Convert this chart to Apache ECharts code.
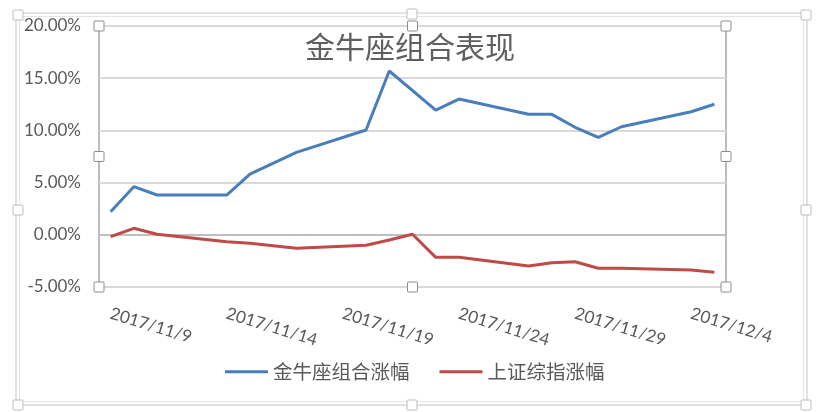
<!DOCTYPE html>
<html>
<head>
<meta charset="utf-8">
<script src="https://cdn.jsdelivr.net/npm/echarts@6/dist/echarts.min.js"></script>
<style>
html,body{margin:0;padding:0;background:#fff;}
#chart{width:817px;height:412px;}
</style>
</head>
<body>
<div id="chart"></div>
<script>
// Categories: calendar days on the date axis
const categories = [
  '2017/11/9','2017/11/10','2017/11/11','2017/11/12','2017/11/13','2017/11/14','2017/11/15',
  '2017/11/16','2017/11/17','2017/11/18','2017/11/19','2017/11/20','2017/11/21','2017/11/22',
  '2017/11/23','2017/11/24','2017/11/25','2017/11/26','2017/11/27','2017/11/28','2017/11/29',
  '2017/11/30','2017/12/1','2017/12/2','2017/12/3','2017/12/4','2017/12/5'
];
// Series values in percent (null = no observation on that day)
const portfolioValues = [
  2.21, 4.61, 3.81, null, null, 3.81, 5.82,
  null, 7.90, null, null, 10.04, 15.69, null,
  11.95, 13.00, null, null, 11.54, 11.54, 10.30,
  9.34, 10.35, null, null, 11.79, 12.50
];
const indexValues = [
  -0.18, 0.62, 0.05, null, null, -0.66, -0.82,
  null, -1.29, null, null, -1.00, -0.50, 0.05,
  -2.16, -2.16, null, null, -2.99, -2.67, -2.58,
  -3.21, -3.21, null, null, -3.37, -3.59
];
const seriesNames = ['金牛座组合涨幅', '上证综指涨幅'];
const titleText = '金牛座组合表现';
const yTicks = { min: -5, max: 20, interval: 5 };

const chart = echarts.init(document.getElementById('chart'), null, {renderer: 'canvas'});

function handle(cx, cy, size, stroke) {
  return {
    type: 'rect', silent: true, z: 100,
    shape: {x: cx - size / 2, y: cy - size / 2, width: size, height: size, r: 1},
    style: {fill: '#ffffff', stroke: stroke, lineWidth: 1}
  };
}
const plotL = 99, plotR = 726, plotT = 26, plotB = 287;
const plotMidX = (plotL + plotR) / 2, plotMidY = (plotT + plotB) / 2;
const graphics = [
  {type: 'rect', silent: true, z: 90, shape: {x: 16, y: 13, width: 791, height: 392},
   style: {fill: 'none', stroke: '#c4c4c4', lineWidth: 1}},
  {type: 'rect', silent: true, z: 90, shape: {x: 19.5, y: 16.5, width: 784, height: 385},
   style: {fill: 'none', stroke: '#e4e4e4', lineWidth: 1}},
  handle(18, 15, 10, '#bdbdbd'), handle(412, 14, 10, '#bdbdbd'), handle(806, 15, 10, '#bdbdbd'),
  handle(18, 210, 10, '#bdbdbd'), handle(806, 210, 10, '#bdbdbd'),
  handle(18, 405, 10, '#bdbdbd'), handle(412, 405, 10, '#bdbdbd'), handle(806, 405, 10, '#bdbdbd'),
  handle(plotL, plotT, 10, '#8c8c8c'), handle(plotMidX, plotT, 10, '#8c8c8c'), handle(plotR, plotT, 10, '#8c8c8c'),
  handle(plotL, plotMidY, 10, '#8c8c8c'), handle(plotR, plotMidY, 10, '#8c8c8c'),
  handle(plotL, plotB, 10, '#8c8c8c'), handle(plotMidX, plotB, 10, '#8c8c8c'), handle(plotR, plotB, 10, '#8c8c8c')
];

const option = {
  animation: false,
  backgroundColor: '#ffffff',
  title: {
    text: titleText,
    left: 305, top: 32, padding: 0,
    textStyle: {fontFamily: '"Noto Sans CJK SC"', fontSize: 30, fontWeight: 'normal', color: '#5f5f5f'}
  },
  legend: {
    left: 225, top: 362, padding: 0,
    itemWidth: 43, itemHeight: 3, itemGap: 30, icon: 'rect',
    textStyle: {fontFamily: '"Noto Sans CJK SC"', fontSize: 19.5, color: '#595959', padding: [0, 0, 0, 0]},
    data: seriesNames
  },
  grid: {
    left: plotL, right: 817 - plotR, top: plotT, bottom: 412 - plotB,
    show: true, borderColor: '#a6a6a6', borderWidth: 1.5, backgroundColor: 'transparent'
  },
  xAxis: {
    type: 'category',
    data: categories,
    boundaryGap: true,
    axisLine: {show: false},
    axisTick: {show: false},
    axisLabel: {
      interval: 4, rotate: -17, margin: 26,
      fontFamily: 'Lato', fontSize: 17, color: '#595959'
    }
  },
  yAxis: {
    type: 'value',
    min: yTicks.min, max: yTicks.max, interval: yTicks.interval,
    axisLine: {show: false},
    axisTick: {show: false},
    axisLabel: {
      margin: 18, fontFamily: 'Lato', fontSize: 17, color: '#595959',
      formatter: v => v.toFixed(2) + '%'
    },
    splitLine: {lineStyle: {color: ['#d9d9d9', '#bfbfbf', '#d9d9d9', '#d9d9d9', '#d9d9d9', '#d9d9d9'], width: 2}}
  },
  series: [
    {
      name: seriesNames[0], type: 'line', data: portfolioValues,
      connectNulls: true, symbol: 'none', smooth: false,
      lineStyle: {color: '#4a7ebb', width: 3}, itemStyle: {color: '#4a7ebb'}
    },
    {
      name: seriesNames[1], type: 'line', data: indexValues,
      connectNulls: true, symbol: 'none', smooth: false,
      lineStyle: {color: '#be4b48', width: 3}, itemStyle: {color: '#be4b48'}
    }
  ],
  graphic: graphics
};
chart.setOption(option);
</script>
</body>
</html>
